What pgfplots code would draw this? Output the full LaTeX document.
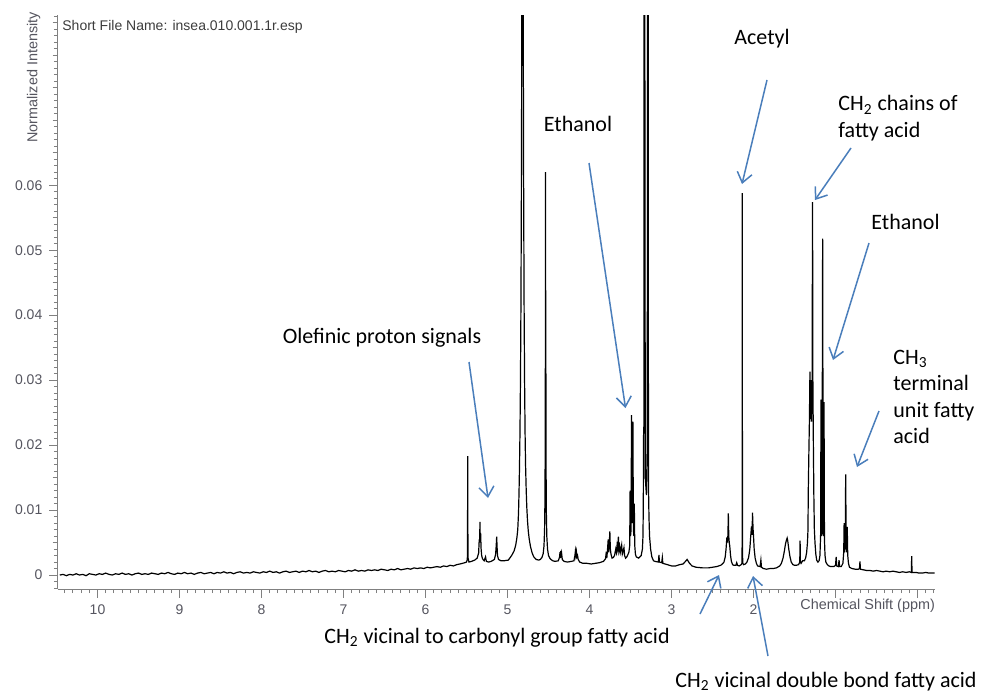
\documentclass[border=0pt]{standalone}
\usepackage{fontspec}
\setmainfont{Liberation Sans}
\newfontfamily\calibri{Carlito}
\usepackage{pgfplots}
\pgfplotsset{compat=1.18}
\usetikzlibrary{arrows.meta}
\definecolor{arrowblue}{RGB}{74,126,187}
\definecolor{axgray}{RGB}{128,128,128}
\definecolor{lblgray}{RGB}{85,85,95}
\begin{document}
\begin{tikzpicture}
\path[use as bounding box] (0,0) rectangle (491pt,346.5pt);
\begin{axis}[
  at={(29pt,52pt)}, anchor=south west,
  width=438.5pt, height=287pt, scale only axis,
  x dir=reverse,
  xmin=-0.213, xmax=10.482, ymin=-0.00215, ymax=0.0862,
  axis x line*=bottom, axis y line*=left,
  axis line style={axgray, line width=0.5pt},
  every tick/.style={axgray, line width=0.5pt},
  tick align=outside,
  xtick={0,1,2,3,4,5,6,7,8,9,10}, xticklabels={,,2,3,4,5,6,7,8,9,10},
  minor xtick={-0.2,-0.1,...,10.45},
  ytick={0,0.01,0.02,0.03,0.04,0.05,0.06},
  yticklabels={0,0.01,0.02,0.03,0.04,0.05,0.06},
  minor ytick={-0.002,-0.001,...,0.0861},
  extra y ticks={0.005,0.015,0.025,0.035,0.045,0.055,0.065,0.07,0.075,0.08,0.085},
  extra y tick labels={},
  extra y tick style={major tick length=2.7pt},
  major tick length=4.3pt, minor tick length=2pt,
  tick label style={font=\fontsize{7}{8}\selectfont, text=lblgray},
  /pgf/number format/assume math mode=true,
]
\addplot[black, line width=0.6pt] coordinates {
(10.46,0.0000) (10.42,0.0001) (10.38,-0.0001) (10.34,0.0001) (10.30,0.0000) (10.26,0.0002) (10.22,0.0000) (10.18,0.0001) (10.14,-0.0001) (10.10,0.0002)
(10.06,0.0001) (10.02,0.0000) (9.98,0.0002) (9.94,0.0001) (9.90,0.0003) (9.86,0.0001) (9.82,0.0000) (9.78,0.0002) (9.74,0.0001) (9.70,0.0003)
(9.66,0.0001) (9.62,0.0002) (9.58,0.0000) (9.54,0.0002) (9.50,0.0003) (9.46,0.0001) (9.42,0.0002) (9.38,0.0001) (9.34,0.0003) (9.30,0.0002)
(9.26,0.0001) (9.22,0.0003) (9.18,0.0002) (9.14,0.0004) (9.10,0.0002) (9.06,0.0001) (9.02,0.0003) (8.98,0.0002) (8.94,0.0004) (8.90,0.0002)
(8.86,0.0003) (8.82,0.0001) (8.78,0.0003) (8.74,0.0004) (8.70,0.0002) (8.66,0.0003) (8.62,0.0004) (8.58,0.0002) (8.54,0.0004) (8.50,0.0003)
(8.46,0.0005) (8.42,0.0003) (8.38,0.0004) (8.34,0.0002) (8.30,0.0004) (8.26,0.0005) (8.22,0.0003) (8.18,0.0004) (8.14,0.0003) (8.10,0.0005)
(8.06,0.0004) (8.02,0.0003) (7.98,0.0005) (7.94,0.0004) (7.90,0.0006) (7.86,0.0004) (7.82,0.0005) (7.78,0.0003) (7.74,0.0005) (7.70,0.0006)
(7.66,0.0004) (7.62,0.0005) (7.58,0.0006) (7.54,0.0004) (7.50,0.0006) (7.46,0.0005) (7.42,0.0007) (7.38,0.0005) (7.34,0.0006) (7.30,0.0004)
(7.26,0.0006) (7.22,0.0007) (7.18,0.0005) (7.14,0.0006) (7.10,0.0005) (7.06,0.0007) (7.02,0.0006) (6.98,0.0005) (6.94,0.0007) (6.90,0.0006)
(6.86,0.0008) (6.82,0.0006) (6.78,0.0007) (6.74,0.0006) (6.70,0.0008) (6.66,0.0007) (6.62,0.0008) (6.58,0.0007) (6.54,0.0009) (6.50,0.0008)
(6.46,0.0007) (6.42,0.0009) (6.38,0.0008) (6.34,0.0010) (6.30,0.0008) (6.26,0.0009) (6.22,0.0010) (6.18,0.0009) (6.14,0.0011) (6.10,0.0010)
(6.06,0.0011) (6.02,0.0010) (5.98,0.0012) (5.94,0.0011) (5.90,0.0012) (5.86,0.0013) (5.82,0.0012) (5.78,0.0014) (5.74,0.0013) (5.70,0.0015)
(5.66,0.0014) (5.62,0.0016) (5.58,0.0017) (5.55,0.0018) (5.52,0.0019)
(5.500,0.0020) (5.490,0.0024) (5.487,0.0078) (5.486,0.0183) (5.484,0.0078) (5.481,0.0026) (5.470,0.0020) (5.440,0.0021) (5.400,0.0023) (5.370,0.0026)
(5.352,0.0034) (5.345,0.0055) (5.340,0.0050) (5.336,0.0082) (5.332,0.0050) (5.328,0.0065) (5.322,0.0040) (5.315,0.0030) (5.305,0.0025) (5.285,0.0022)
(5.268,0.0028) (5.258,0.0021) (5.230,0.0020) (5.200,0.0021) (5.160,0.0024) (5.145,0.0032) (5.138,0.0045) (5.132,0.0059) (5.128,0.0045) (5.122,0.0030)
(5.110,0.0024) (5.080,0.0022) (5.040,0.0022) (4.990,0.0023) (4.950,0.0030) (4.920,0.0037) (4.900,0.0046) (4.885,0.0058) (4.875,0.0070) (4.866,0.0095)
(4.860,0.0125) (4.854,0.0165) (4.848,0.0220) (4.842,0.0300) (4.836,0.0420) (4.830,0.0620) (4.825,0.0900) (4.820,0.1400) (4.817,0.2000) (4.814,0.1400)
(4.809,0.0900) (4.804,0.0620) (4.798,0.0420) (4.792,0.0300) (4.786,0.0220) (4.780,0.0170) (4.772,0.0130) (4.765,0.0105) (4.757,0.0085) (4.747,0.0068)
(4.735,0.0055) (4.720,0.0044) (4.700,0.0034) (4.680,0.0028) (4.650,0.0024) (4.620,0.0023) (4.600,0.0024) (4.580,0.0027) (4.565,0.0033) (4.555,0.0045)
(4.548,0.0070) (4.543,0.0120) (4.539,0.0250) (4.537,0.0620) (4.535,0.0250) (4.533,0.0438) (4.531,0.0200) (4.527,0.0100) (4.521,0.0060) (4.512,0.0040)
(4.500,0.0030) (4.480,0.0025) (4.450,0.0022) (4.420,0.0021) (4.380,0.0022) (4.365,0.0028) (4.360,0.0035) (4.355,0.0026) (4.350,0.0037) (4.345,0.0028)
(4.340,0.0033) (4.332,0.0024) (4.310,0.0021) (4.270,0.0020) (4.220,0.0021) (4.190,0.0022) (4.178,0.0030) (4.172,0.0037) (4.166,0.0030) (4.160,0.0036)
(4.153,0.0028) (4.146,0.0030) (4.138,0.0024) (4.120,0.0020) (4.080,0.0018) (4.030,0.0018) (3.980,0.0017) (3.930,0.0018) (3.880,0.0019) (3.830,0.0021)
(3.805,0.0025) (3.795,0.0036) (3.789,0.0026) (3.780,0.0040) (3.772,0.0055) (3.766,0.0035) (3.758,0.0050) (3.752,0.0067) (3.746,0.0040) (3.738,0.0032)
(3.725,0.0026) (3.710,0.0027) (3.695,0.0030) (3.680,0.0040) (3.672,0.0035) (3.664,0.0046) (3.656,0.0040) (3.648,0.0059) (3.640,0.0038) (3.632,0.0044)
(3.624,0.0035) (3.616,0.0040) (3.608,0.0046) (3.600,0.0032) (3.590,0.0036) (3.580,0.0042) (3.572,0.0030) (3.560,0.0026) (3.545,0.0028) (3.530,0.0032)
(3.520,0.0035) (3.510,0.0045) (3.505,0.0130) (3.500,0.0060) (3.493,0.0070) (3.488,0.0246) (3.482,0.0080) (3.476,0.0085) (3.471,0.0236) (3.465,0.0070)
(3.459,0.0060) (3.454,0.0110) (3.448,0.0045) (3.440,0.0032) (3.430,0.0028) (3.400,0.0026) (3.370,0.0030) (3.355,0.0040) (3.348,0.0060) (3.344,0.0110)
(3.341,0.0213) (3.337,0.0230) (3.334,0.2000) (3.320,0.0150) (3.306,0.0123) (3.296,0.0200) (3.285,0.2000) (3.282,0.0300) (3.280,0.0130) (3.275,0.0090)
(3.268,0.0060) (3.255,0.0040) (3.240,0.0028) (3.220,0.0022) (3.200,0.0021) (3.160,0.0020) (3.153,0.0031) (3.148,0.0020) (3.120,0.0019) (3.112,0.0027)
(3.106,0.0018) (3.050,0.0016) (3.000,0.0014) (2.950,0.0014) (2.900,0.0016) (2.860,0.0017) (2.830,0.0021) (2.810,0.0024) (2.800,0.0022) (2.780,0.0018)
(2.750,0.0014) (2.700,0.0012) (2.620,0.0011) (2.550,0.0011) (2.500,0.0012) (2.450,0.0013) (2.400,0.0015) (2.380,0.0017) (2.360,0.0020) (2.345,0.0028)
(2.335,0.0040) (2.325,0.0058) (2.318,0.0050) (2.312,0.0062) (2.307,0.0095) (2.302,0.0060) (2.296,0.0050) (2.290,0.0045) (2.280,0.0030) (2.270,0.0021)
(2.255,0.0016) (2.240,0.0015) (2.215,0.0015) (2.205,0.0019) (2.195,0.0015) (2.175,0.0014) (2.150,0.0016) (2.141,0.0018) (2.138,0.0060) (2.137,0.0588)
(2.135,0.0060) (2.132,0.0018) (2.120,0.0016) (2.100,0.0017) (2.080,0.0020) (2.060,0.0027) (2.045,0.0040) (2.035,0.0058) (2.025,0.0075) (2.018,0.0062)
(2.012,0.0096) (2.006,0.0072) (2.000,0.0060) (1.992,0.0040) (1.980,0.0026) (1.965,0.0018) (1.950,0.0014) (1.920,0.0013) (1.910,0.0023) (1.903,0.0012)
(1.880,0.0010) (1.840,0.0009) (1.800,0.0010) (1.760,0.0010) (1.720,0.0011) (1.680,0.0014) (1.660,0.0018) (1.640,0.0026) (1.625,0.0036) (1.610,0.0048)
(1.598,0.0054) (1.590,0.0057) (1.582,0.0052) (1.570,0.0040) (1.555,0.0028) (1.540,0.0020) (1.520,0.0016) (1.500,0.0015) (1.480,0.0015) (1.450,0.0016)
(1.436,0.0020) (1.432,0.0053) (1.428,0.0020) (1.420,0.0018) (1.400,0.0022) (1.380,0.0022) (1.365,0.0026) (1.352,0.0035) (1.342,0.0050) (1.336,0.0069)
(1.332,0.0130) (1.325,0.0188) (1.318,0.0240) (1.312,0.0313) (1.306,0.0240) (1.300,0.0300) (1.293,0.0236) (1.286,0.0280) (1.280,0.0574) (1.276,0.0300)
(1.270,0.0200) (1.264,0.0120) (1.258,0.0070) (1.250,0.0049) (1.240,0.0032) (1.230,0.0023) (1.215,0.0020) (1.200,0.0022) (1.190,0.0030) (1.182,0.0060)
(1.177,0.0270) (1.172,0.0060) (1.165,0.0065) (1.157,0.0518) (1.150,0.0065) (1.145,0.0060) (1.140,0.0266) (1.135,0.0055) (1.128,0.0030) (1.118,0.0020)
(1.100,0.0016) (1.080,0.0014) (1.060,0.0013) (1.020,0.0013) (1.000,0.0015) (0.992,0.0028) (0.986,0.0014) (0.965,0.0013) (0.957,0.0023) (0.950,0.0013)
(0.930,0.0013) (0.910,0.0018) (0.900,0.0035) (0.895,0.0080) (0.889,0.0035) (0.882,0.0045) (0.876,0.0155) (0.870,0.0045) (0.862,0.0035) (0.857,0.0074)
(0.851,0.0030) (0.842,0.0018) (0.830,0.0012) (0.800,0.0010) (0.760,0.0009) (0.720,0.0009) (0.708,0.0010) (0.702,0.0021) (0.696,0.0009) (0.660,0.0008)
(0.620,0.0007) (0.580,0.0007) (0.540,0.0006) (0.500,0.0007) (0.460,0.0006) (0.420,0.0005) (0.380,0.0006) (0.340,0.0005) (0.300,0.0006) (0.260,0.0005)
(0.220,0.0004) (0.180,0.0005) (0.140,0.0004) (0.100,0.0005) (0.075,0.0004) (0.071,0.0029) (0.067,0.0004) (0.020,0.0004) (-0.020,0.0003) (-0.060,0.0003)
(-0.100,0.0004) (-0.140,0.0003) (-0.180,0.0003) (-0.210,0.0003)
};
\end{axis}
\begin{scope}[x=0.5pt,y=-0.5pt,yshift=346.5pt]
\node[anchor=base west, font=\fontsize{7}{8}\selectfont, text={rgb,255:red,60;green,60;blue,60}, inner sep=0pt] at (62,31) {Short File Name: insea.010.001.1r.esp};
\node[anchor=base west, rotate=90, font=\fontsize{7.2}{8}\selectfont, text=lblgray, inner sep=0pt] at (37.5,143) {Normalized Intensity};
\node[anchor=base west, font=\fontsize{7.2}{8}\selectfont, text=lblgray, inner sep=0pt] at (800,609) {Chemical Shift (ppm)};
\begin{scope}[arrowblue, line width=0.75pt, -{Straight Barb[length=5pt,width=7.5pt]}]
\draw (469,362) -- (488,498);
\draw (589,163) -- (625.5,408);
\draw (767,80) -- (742,184);
\draw (851,148) -- (815,200);
\draw (869,243) -- (833,360);
\draw (879,411) -- (857,467);
\draw (700,614) -- (719,575);
\draw (768,656) -- (753,576);
\end{scope}
\begin{scope}[font=\calibri\fontsize{11}{13}\selectfont, inner sep=0pt]
\node[anchor=base] at (382,343) {Olefinic proton signals};
\node[anchor=base] at (578,132) {Ethanol};
\node[anchor=base] at (762,45) {Acetyl};
\node[anchor=base west] at (838,111) {CH\textsubscript{2} chains of};
\node[anchor=base west] at (838,137) {fatty acid};
\node[anchor=base] at (905.5,229) {Ethanol};
\node[anchor=base west] at (893,364) {CH\textsubscript{3}};
\node[anchor=base west] at (893,390) {terminal};
\node[anchor=base west] at (893,417) {unit fatty};
\node[anchor=base west] at (893,443) {acid};
\node[anchor=base] at (497,643) {CH\textsubscript{2} vicinal to carbonyl group fatty acid};
\node[anchor=base] at (826,687) {CH\textsubscript{2} vicinal double bond fatty acid};
\end{scope}
\end{scope}
\end{tikzpicture}
\end{document}
